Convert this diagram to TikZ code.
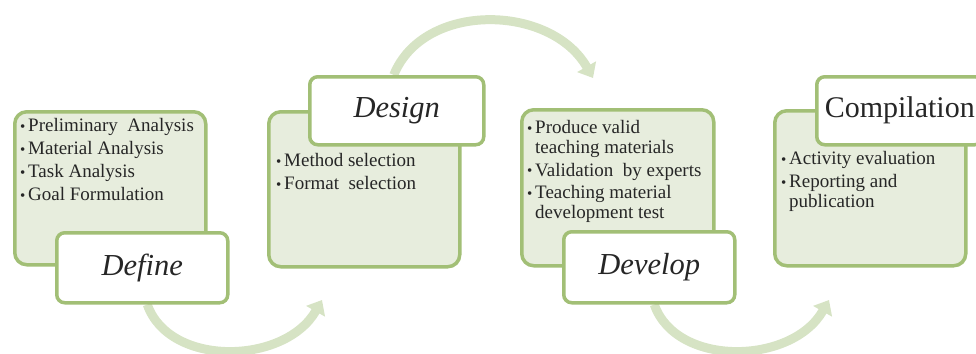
\documentclass[tikz,border=0pt]{standalone}
\usepackage{fontspec}
\setmainfont{Liberation Serif}
\usetikzlibrary{arrows.meta}
\pgfdeclarelayer{bg}
\pgfsetlayers{bg,main}
\definecolor{boxline}{HTML}{A2BF76}
\definecolor{boxfill}{HTML}{E7EDDD}
\definecolor{arrowcol}{HTML}{D6E3C4}
\definecolor{txt}{HTML}{262626}
\newcommand{\bul}{\makebox[8pt][l]{\raisebox{0.5pt}{\fontsize{15}{15}\selectfont\textbullet}}}
\newcommand{\ind}{\hspace*{8pt}}
\tikzset{
 bigbox/.style={draw=boxline, line width=3.5pt, fill=boxfill, rounded corners=12pt, inner sep=0pt, anchor=north west},
 labelbox/.style={draw=boxline, line width=3.5pt, fill=white, rounded corners=8pt, inner sep=0pt, anchor=north west, text=txt},
 flow/.style={draw=arrowcol, line width=9pt, -{Triangle[width=21pt,length=13pt]}},
 ititle/.style={font=\fontsize{30.5}{34}\selectfont\itshape},
 utitle/.style={font=\fontsize{30}{34}\selectfont},
 listtext/.style={font=\fontsize{19}{20}\selectfont, text=txt, align=left, anchor=north west, inner sep=0pt},
}
\begin{document}
\begin{tikzpicture}[x=1pt,y=-1pt]
\useasboundingbox (0,0) rectangle (976,353);
\clip (0,0) rectangle (976,353);
% big boxes
\node[bigbox, minimum width=191pt, minimum height=153pt] (defbig) at (13,110) {};
\node[bigbox, minimum width=191pt, minimum height=155pt] (desbig) at (267,110) {};
\node[bigbox, minimum width=192pt, minimum height=156pt] (devbig) at (520,108) {};
\node[bigbox, minimum width=191pt, minimum height=155pt] (combig) at (773,109) {};
% lists
\node[listtext] (deflist) at (20,118.5) {\bul Preliminary\ \ Analysis\\[3pt]\bul Material Analysis\\[3pt]\bul Task Analysis\\[3pt]\bul Goal Formulation};
\node[listtext] (deslist) at (276,153.5) {\bul Method selection\\[3pt]\bul Format\ \ selection};
\node[listtext] (devlist) at (527,120.5) {\bul Produce valid\\\ind teaching materials\\[2.5pt]\bul Validation\ \ by experts\\[2.5pt]\bul Teaching material\\\ind development test};
\node[listtext] (comlist) at (781,151.5) {\bul Activity evaluation\\[3pt]\bul Reporting and\\\ind publication};
% labels
\node[labelbox, ititle, minimum width=171pt, minimum height=70pt] (deflabel) at (55,231) {Define};
\node[labelbox, ititle, minimum width=174pt, minimum height=68pt] (deslabel) at (308,75) {Design};
\node[labelbox, ititle, minimum width=171pt, minimum height=71pt] (devlabel) at (562,230) {Develop};
\node[labelbox, utitle, minimum width=166pt, minimum height=68pt] (comlabel) at (815,75) {Compilation};
% connectors behind
\coordinate (a1end) at (322,300);
\coordinate (a2end) at (593,78);
\coordinate (a3end) at (829,300);
\begin{pgfonlayer}{bg}
\draw[flow] ([xshift=5pt]deflabel.south) .. controls +(22,63) and +(-37,65) .. (a1end);
\draw[flow] ([xshift=-3pt]deslabel.north) .. controls +(30,-74) and +(-42,-74) .. (a2end);
\draw[flow] ([xshift=5pt]devlabel.south) .. controls +(22,63) and +(-37,65) .. (a3end);
\end{pgfonlayer}
\end{tikzpicture}
\end{document}
